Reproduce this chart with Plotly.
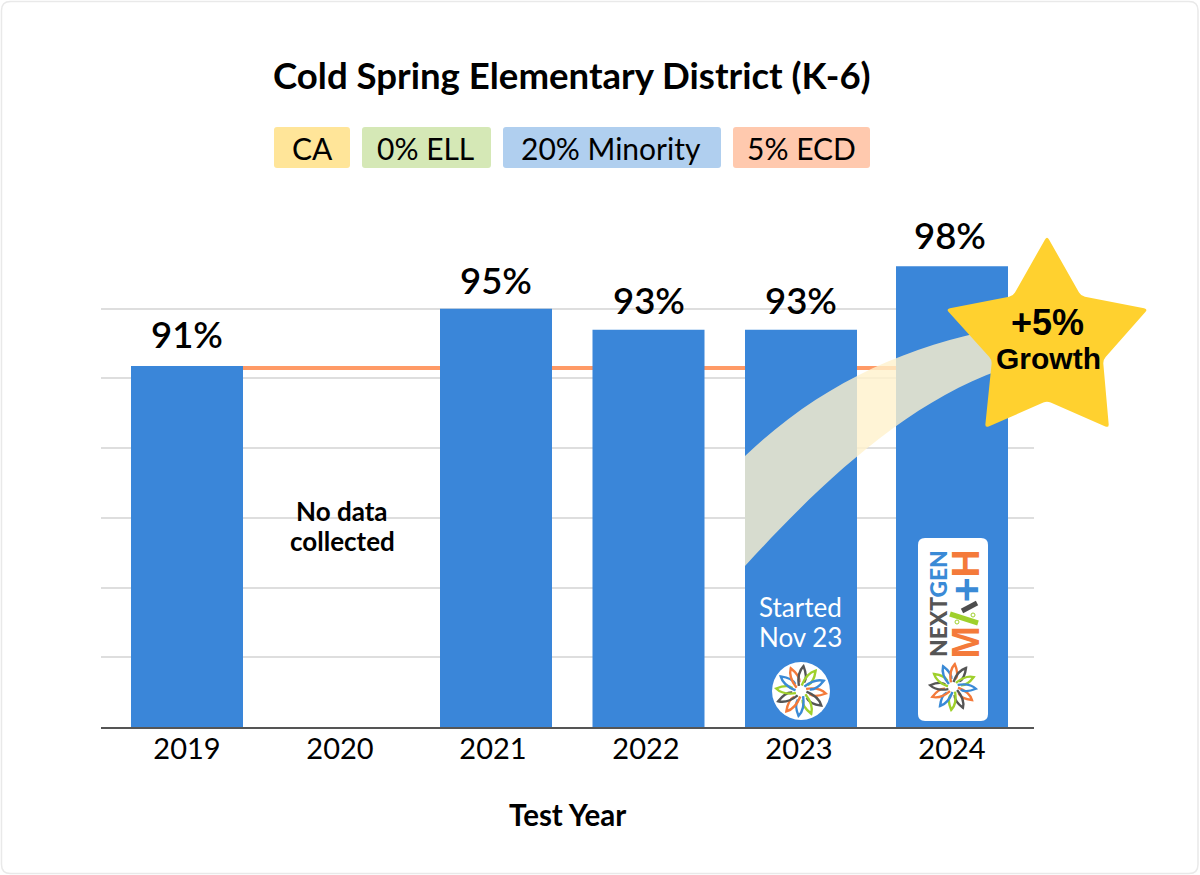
import math
import plotly.graph_objects as go

W, H = 1200, 875

# ---- data ----
years = [2019, 2021, 2022, 2023, 2024]
scores = [90.9, 95.0, 93.5, 93.5, 98.05]
score_labels = ["91%", "95%", "93%", "93%", "98%"]
all_years = [2019, 2020, 2021, 2022, 2023, 2024]
benchmark = 90.75
grid_values = [65, 70, 75, 80, 85, 90, 95]
chips = ["CA", "0% ELL", "20% Minority", "5% ECD"]
chip_fills = ["#ffe599", "#d5e8b6", "#b0cfef", "#ffc9ae"]
title_text = "Cold Spring Elementary District (K-6)"
x_title = "Test Year"
no_data = ["No data", "collected"]
started = ["Started", "Nov 23"]
star_text = "+5%"
star_sub = "Growth"

# ---- layout geometry (pixels) ----
chip_spans = [(274, 350), (362, 491), (503, 721), (733, 870)]
L, R, T, B = 101, 1034, 239, 727
XR = (2019 - (187 - L) / 153, 2024 + (R - 952) / 153)
BAR = "#3a86d9"
BLACK = "#000000"
FONT = "Lato, sans-serif"
ORANGE, BLUE, GREEN, DARK = "#f47a3a", "#3a8ad6", "#9fd02c", "#555555"


# Shapes use plot-domain fractions, computed from page pixels
def dx(x):
    return (x - L) / (R - L)


def dy(y):
    return (B - y) / (B - T)


def P(x, y):
    return f"{dx(x):.5f},{dy(y):.5f}"


def shape_path(d, **kw):
    return dict(type="path", path=d, xref="x domain", yref="y domain", layer=kw.pop("layer", "above"), **kw)


def rounded_rect(x0, y0, x1, y1, r):
    return (
        f"M{P(x0 + r, y0)} L{P(x1 - r, y0)} Q{P(x1, y0)} {P(x1, y0 + r)} "
        f"L{P(x1, y1 - r)} Q{P(x1, y1)} {P(x1 - r, y1)} L{P(x0 + r, y1)} "
        f"Q{P(x0, y1)} {P(x0, y1 - r)} L{P(x0, y0 + r)} Q{P(x0, y0)} {P(x0 + r, y0)} Z"
    )


def rounded_poly(pts, r):
    n = len(pts)
    parts = []
    for i in range(n):
        x, y = pts[i]
        xa, ya = pts[i - 1]
        xb, yb = pts[(i + 1) % n]
        da = math.hypot(xa - x, ya - y)
        db = math.hypot(xb - x, yb - y)
        p0 = (x + (xa - x) * r / da, y + (ya - y) * r / da)
        p1 = (x + (xb - x) * r / db, y + (yb - y) * r / db)
        parts.append(("M" if i == 0 else "L") + P(*p0))
        parts.append("Q" + P(x, y) + " " + P(*p1))
    return " ".join(parts) + " Z"


shapes = []
# card
shapes.append(shape_path(rounded_rect(1.5, 1.5, 1198, 873.5, 9), fillcolor="#ffffff",
                         line=dict(color="#e9e9e9", width=1.5), layer="below"))
# benchmark line, under the bars
shapes.append(dict(type="line", xref="x", yref="y", x0=all_years[0], x1=all_years[-1],
                   y0=benchmark, y1=benchmark, layer="between",
                   line=dict(color="#ff9a66", width=4)))
# chips
for (a, b), c in zip(chip_spans, chip_fills):
    shapes.append(shape_path(rounded_rect(a, 127, b, 168, 3), fillcolor=c, line=dict(width=0)))
# ribbon
ribbon = (
    f"M{P(745, 456)} C{P(820, 385)} {P(900, 348)} {P(1000, 328)} L{P(1000, 370)} "
    f"C{P(900, 405)} {P(810, 495)} {P(745, 566)} Z"
)
shapes.append(shape_path(ribbon, fillcolor="rgba(255,241,204,0.8)", line=dict(width=0)))
# star
star = [(1047, 236), (1081, 296), (1148, 309), (1103, 360), (1109, 428),
        (1047, 401), (985, 428), (992, 360), (946, 309), (1013, 296)]
shapes.append(shape_path(rounded_poly(star, 4), fillcolor="#ffd12f", line=dict(width=0)))
# logo plates
shapes.append(shape_path(rounded_rect(918, 538, 988, 721, 7), fillcolor="#ffffff", line=dict(width=0)))
shapes.append(dict(type="circle", xref="x domain", yref="y domain", x0=dx(772), x1=dx(830),
                   y0=dy(720), y1=dy(662), fillcolor="#ffffff", line=dict(width=0), layer="above"))


def polar(cx, cy, r, a):
    return cx + r * math.cos(a), cy + r * math.sin(a)


def flower(cx, cy, rad, width, start):
    cols = [ORANGE, DARK, GREEN, BLUE]
    n = 12
    for i in range(n):
        a = start + 2 * math.pi * i / n
        p0 = polar(cx, cy, rad * 0.22, a - 0.5)
        c0 = polar(cx, cy, rad * 0.75, a - 0.32)
        tip = polar(cx, cy, rad, a)
        c1 = polar(cx, cy, rad * 0.62, a + 0.36)
        p1 = polar(cx, cy, rad * 0.36, a + 0.25)
        d = f"M{P(*p0)} Q{P(*c0)} {P(*tip)} Q{P(*c1)} {P(*p1)}"
        shapes.append(shape_path(d, line=dict(color=cols[i % 4], width=width)))


flower(801, 691, 25, 2.4, 0.1)
flower(953, 687, 23, 2.4, 0.6)
# the logo's A, a split glyph
shapes.append(shape_path(f"M{P(977, 603)} L{P(962, 611)}", line=dict(color="#4d4d4d", width=5)))
shapes.append(shape_path(f"M{P(950, 614)} L{P(978, 623)}", line=dict(color=GREEN, width=5)))
for cx, cy in [(957, 622), (973, 615)]:
    shapes.append(dict(type="circle", xref="x domain", yref="y domain", x0=dx(cx - 2), x1=dx(cx + 2),
                       y0=dy(cy + 2), y1=dy(cy - 2), fillcolor="#ffffff",
                       line=dict(color=GREEN, width=1), layer="above"))


def ann(text, x, y, size, color=BLACK, family=FONT, angle=0, weight=None):
    f = dict(family=family, size=size, color=color)
    if weight:
        f["weight"] = weight
    return dict(text=text, xref="paper", yref="paper", x=dx(x), y=dy(y), xanchor="center", yanchor="middle",
                showarrow=False, font=f, textangle=angle)


NARROW = "Liberation Sans Narrow, Liberation Sans"
annotations = [
    ann(title_text, 572, 74.5, 36.6, weight=700),
    ann(x_title, 567, 814.5, 29.5, weight=700),
    ann(no_data[0], 342, 510.5, 26, weight=700),
    ann(no_data[1], 342, 541, 26, weight=700),
    ann(started[0], 800, 607, 26, color="#ffffff"),
    ann(started[1], 800, 637, 26, color="#ffffff"),
    ann(star_text, 1047, 322, 36, family="Liberation Sans", weight=700),
    ann(star_sub, 1048, 358, 30, family="Liberation Sans", weight=700),
    ann('<span style="color:#555555">NEXT</span><span style="color:#3a8ad6">GEN</span>',
        938, 604, 22.8, angle=-90, weight=900),
    ann("M", 964.5, 642, 39, color=ORANGE, family=NARROW, angle=-90, weight=700),
    ann("+", 964.5, 590, 44, color=BLUE, angle=-90, weight=900),
    ann("H", 964.5, 564, 39, color=ORANGE, family=NARROW, angle=-90, weight=700),
]
chip_shift = [0, -1, -1, 0]
for (a, b), t, s in zip(chip_spans, chips, chip_shift):
    annotations.append(ann(t, (a + b) / 2 + s, 148, 30))

# score labels, lifted above their bars
bar_nudge = [0, 3, 2.5, 2, 0]
label_nudge = [0, 3, 2.5, 2, -2]
label_lift = [32, 29, 30, 30, 31]
for xv, yv, lab, n, lift in zip(years, scores, score_labels, label_nudge, label_lift):
    annotations.append(dict(text=lab, x=xv, y=yv, xref="x", yref="y", xanchor="center", yanchor="middle",
                            yshift=lift, xshift=n, showarrow=False,
                            font=dict(family=FONT, size=36.5, color=BLACK, weight=600)))

bar_w = 112 / 153
fig = go.Figure(go.Bar(
    x=years, y=scores, width=bar_w,
    offset=[-bar_w / 2 + n / 153 for n in bar_nudge],
    marker=dict(color=BAR, line=dict(width=0)),
    cliponaxis=False, hoverinfo="x+y",
))
fig.update_layout(
    width=W, height=H,
    margin=dict(l=L, r=W - R, t=T, b=H - B, pad=0),
    paper_bgcolor="#ffffff", plot_bgcolor="rgba(0,0,0,0)",
    showlegend=False, shapes=shapes, annotations=annotations,
    font=dict(family=FONT, color=BLACK),
    xaxis=dict(range=XR, tickvals=all_years, ticktext=[str(v) for v in all_years],
               ticks="", showgrid=False, zeroline=False, showline=True, linecolor="#555555", linewidth=1.5,
               tickfont=dict(family=FONT, size=29, color=BLACK), ticklabelstandoff=-5),
    yaxis=dict(range=[65, 100], tickvals=grid_values, showticklabels=False, ticks="",
               showgrid=True, gridcolor="#dedede", gridwidth=1.5, zeroline=False, showline=False),
)
fig.write_html("out.html", config=dict(displayModeBar=False),
               post_script="document.body.style.margin='0';")
